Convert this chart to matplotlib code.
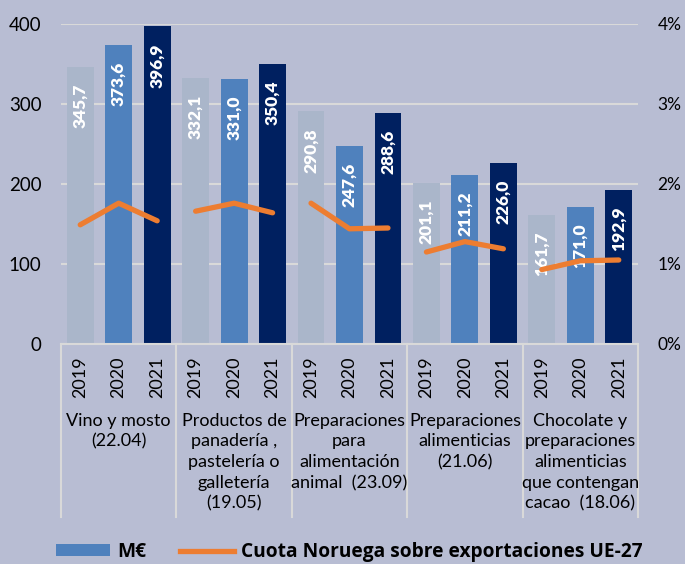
import numpy as np
import matplotlib.pyplot as plt
from matplotlib.patches import Patch
from matplotlib.lines import Line2D
import matplotlib.ticker as mticker

plt.rcParams['font.family'] = ['Lato', 'DejaVu Sans']

# data
groups = ["Vino y mosto\n(22.04)",
          "Productos de\npanadería ,\npastelería o\ngalletería\n(19.05)",
          "Preparaciones\npara\nalimentación\nanimal  (23.09)",
          "Preparaciones\nalimenticias\n(21.06)",
          "Chocolate y\npreparaciones\nalimenticias\nque contengan\ncacao  (18.06)"]
years = ["2019", "2020", "2021"]
v2019 = [345.7, 332.1, 290.8, 201.1, 161.7]
v2020 = [373.6, 331.0, 247.6, 211.2, 171.0]
v2021 = [396.9, 350.4, 288.6, 226.0, 192.9]
share2019 = [1.49, 1.66, 1.76, 1.15, 0.93]
share2020 = [1.76, 1.76, 1.44, 1.28, 1.04]
share2021 = [1.54, 1.64, 1.45, 1.19, 1.05]

BG = "#b8bdd3"
C19 = "#aab6ca"
C20 = "#4f81bd"
C21 = "#002060"
ORANGE = "#ed7d31"
GRID = "#d9d9d9"

fig = plt.figure(figsize=(6.85, 5.64), dpi=100)
fig.patch.set_facecolor(BG)
ax = fig.add_axes([61 / 685, 1 - 344 / 564, 577 / 685, 320 / 564])
ax.set_facecolor(BG)

n = len(groups)
values = [v2019, v2020, v2021]
colors = [C19, C20, C21]
for j, (vals, col) in enumerate(zip(values, colors)):
    xs = np.arange(n) * 3 + j
    bars = ax.bar(xs, vals, width=0.7, color=col, zorder=2)
    for b, v in zip(bars, vals):
        ax.annotate(f"{v:.1f}".replace(".", ","),
                    xy=(b.get_x() + b.get_width() / 2, v),
                    xytext=(0, -12), textcoords="offset points",
                    rotation=90, ha="center", va="top",
                    color="white", fontsize=12.5, fontweight="heavy", zorder=3)

ax.set_xlim(-0.5, 3 * n - 0.5)
ax.set_ylim(0, 400)
ax.set_yticks([0, 100, 200, 300, 400])
ax.grid(axis="y", color=GRID, linewidth=1.5, zorder=0)
ax.set_axisbelow(True)
for s in ["left", "right", "top"]:
    ax.spines[s].set_visible(False)
ax.spines["bottom"].set_color(GRID)
ax.spines["bottom"].set_linewidth(1.5)
ax.set_xticks(np.arange(3 * n))
ax.set_xticklabels(years * n, rotation=90)
ax.tick_params(axis="x", length=0, pad=9, labelsize=13)
ax.tick_params(axis="y", length=0, pad=14, labelsize=13.5)

# group separators and names
for g in range(n + 1):
    ax.plot([g * 3 - 0.5] * 2, [0, -0.54], transform=ax.get_xaxis_transform(),
            color=GRID, lw=1.5, clip_on=False)
for g, name in enumerate(groups):
    ax.text(g * 3 + 1, -0.215, name, transform=ax.get_xaxis_transform(),
            ha="center", va="top", fontsize=13, linespacing=1.36)

# share line (secondary axis)
ax2 = ax.twinx()
ax2.set_ylim(0, 4)
ax2.set_yticks([0, 1, 2, 3, 4])
ax2.yaxis.set_major_formatter(mticker.FuncFormatter(lambda v, p: f"{v:.0f}%"))
ax2.tick_params(axis="y", length=0, pad=14, labelsize=12.5)
for s in ax2.spines.values():
    s.set_visible(False)
for g in range(n):
    ax2.plot([g * 3, g * 3 + 1, g * 3 + 2],
             [share2019[g], share2020[g], share2021[g]],
             color=ORANGE, lw=3.8, solid_capstyle="round", solid_joinstyle="round")

handles = [Patch(facecolor=C20, label="M€"),
           Line2D([], [], color=ORANGE, lw=3.8, label="Cuota Noruega sobre exportaciones UE-27")]
fig.legend(handles=handles, loc="center", bbox_to_anchor=(0.51, 1 - 552 / 564),
           ncol=2, frameon=False, handlelength=2.8, handleheight=0.6,
           handletextpad=0.35, columnspacing=1.8,
           prop={"family": "Open Sans", "size": 13.8, "weight": "bold"})

fig.savefig("out.png", dpi=100, facecolor=BG)
